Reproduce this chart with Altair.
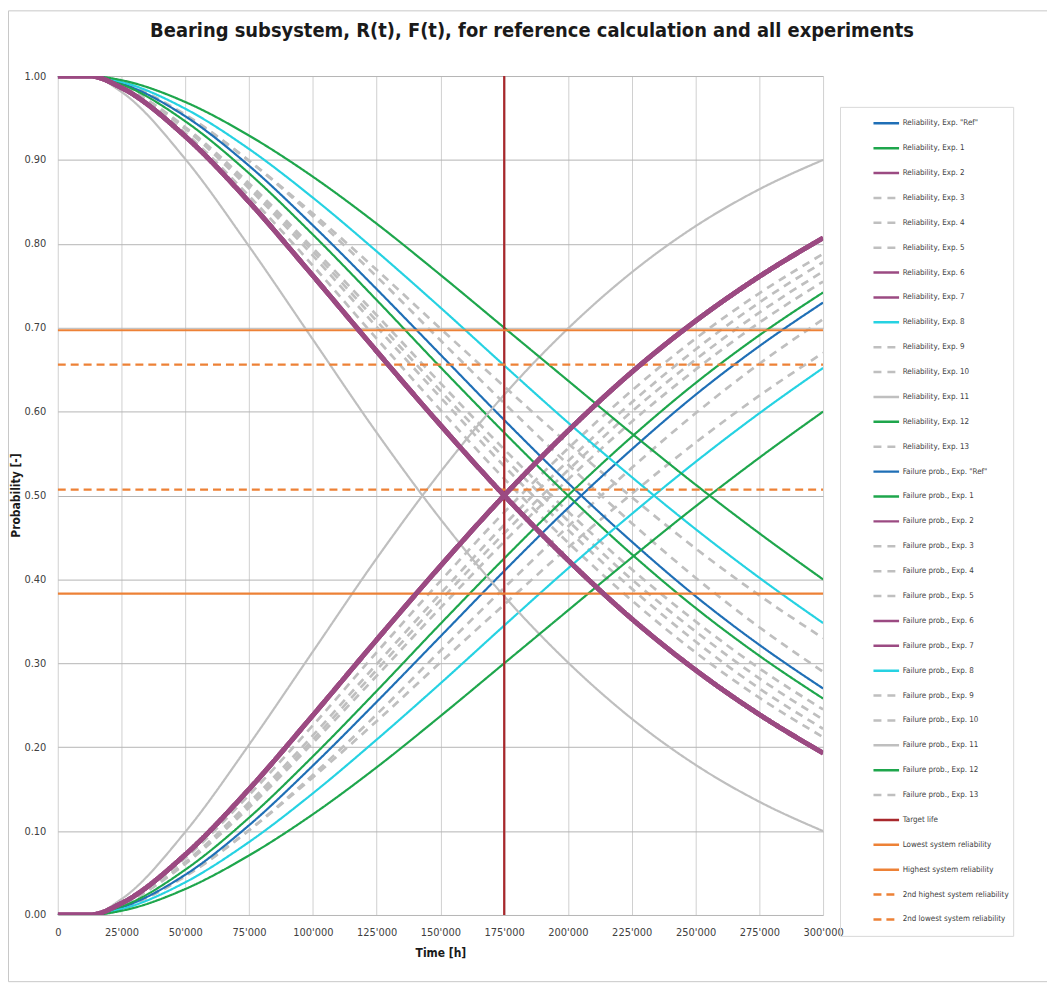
import altair as alt
import pandas as pd

# ---- data ----
T = [0, 12500, 25000, 50000, 75000, 100000, 125000, 150000, 175000,
     200000, 225000, 250000, 275000, 300000]

R_REF = [1.0, 1.0, 0.991, 0.952, 0.893, 0.822, 0.746, 0.668, 0.590, 0.515, 0.445, 0.380, 0.322, 0.270]
R_EXP1 = [1.0, 1.0, 0.990, 0.946, 0.884, 0.811, 0.733, 0.653, 0.575, 0.500, 0.430, 0.366, 0.309, 0.258]
R_EXP2 = [1.0, 1.0, 0.986, 0.928, 0.850, 0.762, 0.672, 0.584, 0.500, 0.423, 0.353, 0.292, 0.239, 0.193]
R_EXP3 = [1.0, 1.0, 0.988, 0.939, 0.872, 0.795, 0.715, 0.634, 0.555, 0.481, 0.412, 0.350, 0.294, 0.245]
R_EXP4 = [1.0, 1.0, 0.988, 0.937, 0.866, 0.786, 0.701, 0.617, 0.535, 0.459, 0.389, 0.326, 0.270, 0.222]
R_EXP5 = [1.0, 1.0, 0.987, 0.932, 0.857, 0.774, 0.687, 0.602, 0.520, 0.444, 0.375, 0.313, 0.259, 0.212]
R_EXP6 = [1.0, 1.0, 0.986, 0.928, 0.850, 0.762, 0.672, 0.584, 0.500, 0.423, 0.353, 0.292, 0.239, 0.193]
R_EXP7 = [1.0, 1.0, 0.986, 0.928, 0.850, 0.762, 0.672, 0.584, 0.500, 0.423, 0.353, 0.292, 0.239, 0.193]
R_EXP8 = [1.0, 1.0, 0.993, 0.961, 0.913, 0.855, 0.791, 0.724, 0.655, 0.587, 0.522, 0.460, 0.402, 0.348]
R_EXP9 = [1.0, 1.0, 0.991, 0.953, 0.899, 0.836, 0.769, 0.699, 0.630, 0.562, 0.498, 0.437, 0.381, 0.330]
R_EXP10 = [1.0, 1.0, 0.992, 0.954, 0.899, 0.833, 0.761, 0.685, 0.610, 0.537, 0.467, 0.402, 0.343, 0.290]
R_EXP11 = [1.0, 1.0, 0.981, 0.901, 0.797, 0.686, 0.575, 0.472, 0.380, 0.301, 0.234, 0.179, 0.135, 0.100]
R_EXP12 = [1.0, 1.0, 0.995, 0.969, 0.929, 0.880, 0.824, 0.763, 0.700, 0.637, 0.574, 0.513, 0.455, 0.400]
R_EXP13 = [1.0, 1.0, 0.988, 0.938, 0.869, 0.791, 0.708, 0.625, 0.545, 0.470, 0.400, 0.338, 0.282, 0.233]

EXPS = ['"Ref"', '1', '2', '3', '4', '5', '6', '7', '8', '9', '10', '11', '12', '13']
R_ALL = [R_REF, R_EXP1, R_EXP2, R_EXP3, R_EXP4, R_EXP5, R_EXP6, R_EXP7,
         R_EXP8, R_EXP9, R_EXP10, R_EXP11, R_EXP12, R_EXP13]

TARGET_LIFE = 175000
LOWEST_SYS = 0.383
HIGHEST_SYS = 0.697
SECOND_HIGHEST_SYS = 0.656
SECOND_LOWEST_SYS = 0.507

# ---- styles per experiment ----
BLUE, GREEN, PURPLE, GRAY, CYAN = "#1F6FB6", "#1EA64C", "#9B4A82", "#BFBFBF", "#26D2E2"
EXP_COLORS = [BLUE, GREEN, PURPLE, GRAY, GRAY, GRAY, PURPLE, PURPLE, CYAN, GRAY, GRAY, GRAY, GREEN, GRAY]
EXP_DASH = [[1, 0], [1, 0], [1, 0], [8, 6], [8, 6], [8, 6], [1, 0], [1, 0], [1, 0], [8, 6], [8, 6], [1, 0], [1, 0], [8, 6]]
THICK_EXPS = ['2', '6', '7']
DASHED_EXPS = ['3', '4', '5', '9', '10', '13']

rel_labels = [f"Reliability, Exp. {e}" for e in EXPS]
fail_labels = [f"Failure prob., Exp. {e}" for e in EXPS]
extra_labels = ["Target life", "Lowest system reliability", "Highest system reliability",
                "2nd highest system reliability", "2nd lowest system reliability"]
LABELS = rel_labels + fail_labels + extra_labels

ORANGE, DARKRED = "#ED8136", "#A8282C"
COLORS = EXP_COLORS + EXP_COLORS + [DARKRED, ORANGE, ORANGE, ORANGE, ORANGE]
DASHES = EXP_DASH + EXP_DASH + [[1, 0], [1, 0], [1, 0], [8, 5], [8, 5]]

THICK = [f"Reliability, Exp. {e}" for e in THICK_EXPS] + [f"Failure prob., Exp. {e}" for e in THICK_EXPS]
DASHED = [f"Reliability, Exp. {e}" for e in DASHED_EXPS] + [f"Failure prob., Exp. {e}" for e in DASHED_EXPS]
THIN = [lab for lab in LABELS if lab not in THICK and lab not in DASHED]

rows = []
for lab_r, lab_f, vals in zip(rel_labels, fail_labels, R_ALL):
    for t, v in zip(T, vals):
        rows.append({"t": t, "p": v, "series": lab_r})
        rows.append({"t": t, "p": round(1 - v, 4), "series": lab_f})
for p in [0.0, 1.0]:
    rows.append({"t": TARGET_LIFE, "p": p, "series": "Target life"})
for lab, h in zip(extra_labels[1:], [LOWEST_SYS, HIGHEST_SYS, SECOND_HIGHEST_SYS, SECOND_LOWEST_SYS]):
    for t in [T[0], T[-1]]:
        rows.append({"t": t, "p": h, "series": lab})
df = pd.DataFrame(rows)

FONT = "DejaVu Sans Condensed, Liberation Sans, sans-serif"

legend = alt.Legend(
    title=None, orient="none", legendX=786, legendY=31,
    symbolType="stroke", symbolSize=662, symbolStrokeWidth=2.5, symbolLimit=0,
    labelFont=FONT, labelFontSize=8, labelColor="#404040",
    labelLimit=200, rowPadding=0, padding=4, symbolOffset=28,
    strokeColor="#D9D9D9", clipHeight=25, labelOffset=2,
)

base = alt.Chart(df).encode(
    x=alt.X("t:Q", scale=alt.Scale(domain=[0, 300000], nice=False),
            axis=alt.Axis(title="Time [h]", values=list(range(0, 300001, 25000)),
                          labelExpr="datum.value == 0 ? '0' : replace(format(datum.value, ','), ',', \"'\")",
                          labelOverlap=False, labelFlush=False,
                          grid=True, gridColor="#D0D0D0", domain=False, ticks=False,
                          labelPadding=12, titlePadding=10)),
    y=alt.Y("p:Q", scale=alt.Scale(domain=[0, 1], nice=False),
            axis=alt.Axis(title="Probability [-]", values=[i / 10 for i in range(11)], format=".2f",
                          grid=True, gridColor="#B4B4B4", domain=False, ticks=False,
                          labelPadding=12, titleX=-35, titleY=421)),
    color=alt.Color("series:N", scale=alt.Scale(domain=LABELS, range=COLORS), legend=legend),
    strokeDash=alt.StrokeDash("series:N", scale=alt.Scale(domain=LABELS, range=DASHES), legend=legend),
    order=alt.Order("t:Q"),
)

thin = base.transform_filter(alt.FieldOneOfPredicate(field="series", oneOf=THIN)).mark_line(
    interpolate="monotone", clip=True, strokeWidth=2.2)
dashed = base.transform_filter(alt.FieldOneOfPredicate(field="series", oneOf=DASHED)).mark_line(
    interpolate="monotone", clip=True, strokeWidth=2.7)
thick = base.transform_filter(alt.FieldOneOfPredicate(field="series", oneOf=THICK)).mark_line(
    interpolate="monotone", clip=True, strokeWidth=4.8)

frame = alt.Chart(pd.DataFrame({"a": [0]})).mark_rect(
    fill="transparent", stroke="#C8C8C8", strokeWidth=1
).encode(
    x=alt.value(-49.5), x2=alt.value(1100), y=alt.value(-65.5), y2=alt.value(910)
)

chart = alt.layer(frame, dashed, thin, thick).properties(
    width=769, height=843,
    title=alt.TitleParams(
        "Bearing subsystem, R(t), F(t), for reference calculation and all experiments",
        font=FONT, fontSize=20, fontWeight="bold", color="#1A1A1A",
        anchor="middle", frame="group", dx=92, offset=-31,
    ),
    autosize=alt.AutoSizeParams(type="none"),
    padding={"left": 50, "top": 66, "right": 225, "bottom": 68},
).configure_axis(
    labelFont=FONT, labelFontSize=11, labelColor="#404040",
    titleFont=FONT, titleFontSize=12, titleFontWeight="bold", titleColor="#1A1A1A",
).configure_view(stroke=None)

chart.save("out.html", embed_options={"renderer": "svg", "actions": False})
